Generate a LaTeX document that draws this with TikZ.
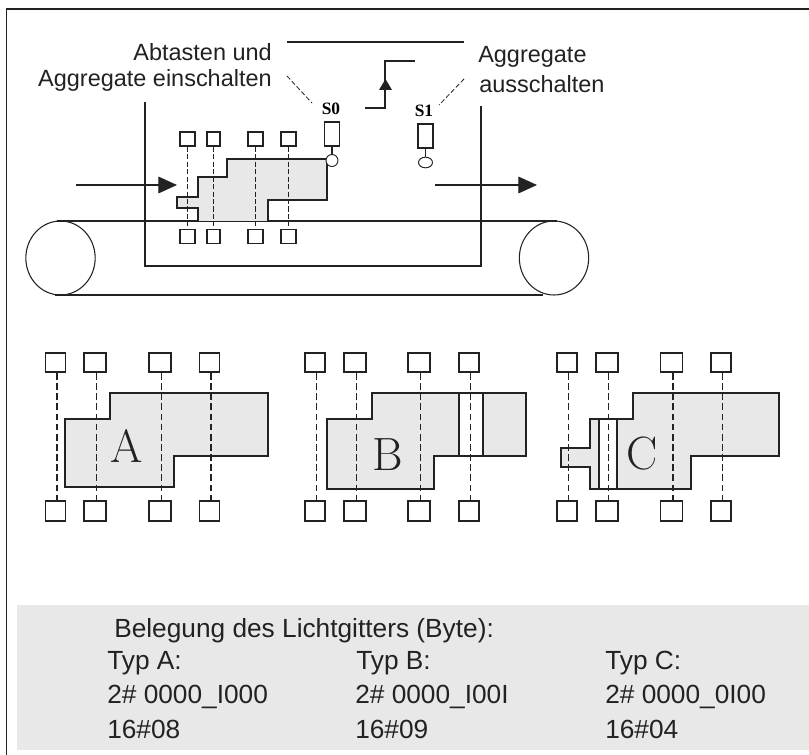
\documentclass[tikz,border=0pt]{standalone}
\usepackage{fontspec}
\setsansfont{Liberation Sans}
\newfontfamily\serifb{Liberation Serif}
\usetikzlibrary{arrows.meta,shapes.geometric}
\definecolor{partgray}{HTML}{E8E8E8}
\definecolor{inkc}{HTML}{222222}
\tikzset{
  x=0.75pt,y=-0.75pt,
  ln/.style={draw=inkc,line width=1pt},
  thin ln/.style={draw=inkc,line width=0.9pt},
  dash ln/.style={draw=inkc,line width=1.15pt,dash pattern=on 5pt off 2.6pt},
  lead ln/.style={draw=inkc,line width=0.6pt,dash pattern=on 3.5pt off 1.8pt},
  part/.style={draw=inkc,line width=1.25pt,fill=partgray,line join=miter},
  sens/.style={draw=inkc,line width=1.1pt,fill=white,rectangle,inner sep=0pt},
  wheel/.style={ellipse,draw=inkc,line width=0.8pt,minimum width=52pt,minimum height=55.5pt,inner sep=0pt},
  bigarrow/.style={draw=inkc,line width=0.9pt,-{Triangle[length=14pt,width=12.5pt]}},
  label/.style={font=\sffamily\fontsize{17.6pt}{20pt}\selectfont,text=inkc,inner sep=0pt},
  tbl/.style={font=\sffamily\fontsize{19.7pt}{22pt}\selectfont,text=inkc,inner sep=0pt,anchor=west},
  sname/.style={font=\serifb\bfseries\fontsize{13pt}{14pt}\selectfont,inner sep=0pt},
  big/.style={font=\rmfamily\fontsize{35pt}{38pt}\selectfont,inner sep=0pt,text=inkc},
}
\newcommand{\gridset}[6]{%
  \foreach \n/\xx/\w in {1/#2/15,2/#3/16.5,3/#4/16.5,4/#5/15}{
    \node[sens,line width=1.35pt,minimum width=\w pt,minimum height=14.5pt] (#1t\n) at (\xx,362.5) {};
    \node[sens,line width=1.35pt,minimum width=\w pt,minimum height=14.5pt] (#1b\n) at (\xx,511) {};
    \draw[dash ln] ([xshift=#6pt]#1t\n.south) -- ([xshift=#6pt]#1b\n.north);
  }
}
\begin{document}
\begin{tikzpicture}
\useasboundingbox (0,0) rectangle (809,755);
\fill[white] (0,0) rectangle (809,755);
\coordinate (fbl) at (6.5,755); \coordinate (ftl) at (6.5,9); \coordinate (ftr) at (809,9);
\draw[ln,line width=1.4pt] (fbl) -- (ftl) -- (ftr);
\fill[partgray] (17,605) rectangle (809,750);
% top scene
\draw[ln] (287,42) -- (464,42);
\coordinate (st0) at (365,108); \coordinate (st1) at (385,108); \coordinate (st2) at (385,61); \coordinate (st3) at (415,61);
\draw[ln] (st0) -- (st1) -- (st2) -- (st3);
\fill[inkc] (379,90) -- (392,90) -- (385.5,79) -- cycle;
\draw[thin ln] (145,102) -- (145,266) -- (481,266) -- (481,106);
% belt
\node[wheel] (wl) at (60.5,258) {};
\node[wheel] (wr) at (554,258) {};
\draw[ln] (57,221) -- (557,221);
\draw[ln] (55,295) -- (543,295);
% part in the scene
\draw[part,line width=1.1pt] (198,221) -- (198,208) -- (177,208) -- (177,197) -- (198,197) -- (198,177) -- (227,177) -- (227,159) -- (327,159) -- (327,200) -- (268,200) -- (268,221);
\foreach \n/\xx/\w in {1/187.5/11,2/213.5/9.7,3/255.5/11,4/288.5/11}{
  \node[sens,minimum width=\w pt,minimum height=10.5pt] (ut\n) at (\xx,139) {};
  \node[sens,minimum width=\w pt,minimum height=10.5pt] (ub\n) at (\xx,236.5) {};
  \draw[dash ln,line width=0.95pt,dash pattern=on 3.8pt off 1.8pt] (ut\n) -- (ub\n);
}
% arrows
\coordinate (al0) at (76,185); \coordinate (al1) at (177,185);
\coordinate (ar0) at (435,185); \coordinate (ar1) at (537,185);
\draw[bigarrow] (al0) -- (al1);
\draw[bigarrow] (ar0) -- (ar1);
% S0, S1
\node[sens,minimum width=11pt,minimum height=18pt] (s0) at (332,134) {};
\node[draw=inkc,line width=0.7pt,circle,fill=white,minimum size=9pt,inner sep=0pt] (c0) at (332,160.5) {};
\draw[thin ln] (s0) -- (c0);
\node[sens,minimum width=11pt,minimum height=18pt] (s1) at (425.5,136) {};
\node[draw=inkc,line width=0.7pt,ellipse,fill=white,minimum width=10.5pt,minimum height=8pt,inner sep=0pt] (c1) at (425.5,162.5) {};
\draw[thin ln] (s1) -- (c1);
\node[sname] (s0l) at (331,109) {S0};
\node[sname] (s1l) at (424,111) {S1};
% texts
\node[label,anchor=east] (t1) at (272,52) {Abtasten und};
\node[label,anchor=east] (t2) at (272,80) {Aggregate einschalten};
\node[label,anchor=west] (t3) at (478,57) {Aggregate};
\node[label,anchor=west] (t4) at (479,84) {ausschalten};
\coordinate (l0a) at (287,76); \coordinate (l0b) at (312,103);
\coordinate (l1a) at (464,79); \coordinate (l1b) at (439,105);
\draw[lead ln] (l0a) -- (l0b);
\draw[lead ln] (l1a) -- (l1b);
% A
\draw[part] (65,419) -- (110,419) -- (110,393) -- (268,393) -- (268,456) -- (174,456) -- (174,487) -- (65,487) -- cycle;
\gridset{a}{55.5}{95}{160}{209.5}{1}
\node[big] (A) at (127,446) {A};
% B
\draw[part] (327,419) -- (372,419) -- (372,393) -- (526,393) -- (526,456) -- (434,456) -- (434,489) -- (327,489) -- cycle;
\draw[part,fill=white] (459,393) rectangle (483,456);
\gridset{b}{315}{355}{419}{469}{1}
\node[big] (B) at (388,455) {B};
% C
\draw[part] (590,419) -- (633,419) -- (633,393) -- (779,393) -- (779,456) -- (691,456) -- (691,489) -- (590,489) -- (590,467) -- (561,467) -- (561,448) -- (590,448) -- cycle;
\draw[part,fill=white] (599,419) rectangle (617,489);
\gridset{c}{567}{607}{671.5}{721}{1}
\node[big] (C) at (642,454) {C};
% table
\node[tbl] (h) at (114,631) {Belegung des Lichtgitters (Byte):};
\node[tbl] (a1) at (107,663) {Typ A:};
\node[tbl] (a2) at (107,697) {2\# 0000\_I000};
\node[tbl] (a3) at (107,729) {16\#08};
\node[tbl] (b1) at (356,663) {Typ B:};
\node[tbl] (b2) at (355,697) {2\# 0000\_I00I};
\node[tbl] (b3) at (355,729) {16\#09};
\node[tbl] (c1t) at (605,663) {Typ C:};
\node[tbl] (c2t) at (605,697) {2\# 0000\_0I00};
\node[tbl] (c3t) at (605,729) {16\#04};
\end{tikzpicture}
\end{document}
